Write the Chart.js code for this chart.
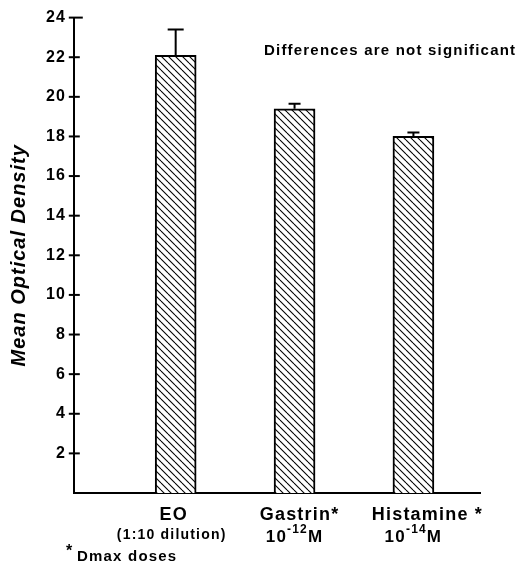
<!DOCTYPE html>
<html>
<head>
<meta charset="utf-8">
<script src="https://cdn.jsdelivr.net/npm/chart.js@4.4.0/dist/chart.umd.min.js"></script>
<style>
  html, body { margin: 0; padding: 0; background: #fff; }
  #wrap { width: 524px; height: 570px; position: relative; }
</style>
</head>
<body>
<div id="wrap"><canvas id="myChart" width="524" height="570"></canvas></div>
<script>
// data
const categories = ['EO', 'Gastrin*', 'Histamine *'];
const subLabels = ['(1:10 dilution)', '10', '10'];
const exponents = ['', '-12', '-14'];
const subUnits = ['', 'M', 'M'];
const means = [22.1, 19.4, 18.0];
const errors = [1.3, 0.25, 0.2];
const yTicks = [2, 4, 6, 8, 10, 12, 14, 16, 18, 20, 22, 24];
const note = 'Differences are not significant';
const footnote = 'Dmax doses';

const FONT = '"Liberation Sans", Arial, Helvetica, sans-serif';

// diagonal hatch fill
function hatch() {
    const s = 7;
    const c = document.createElement('canvas');
    c.width = s; c.height = s;
    const g = c.getContext('2d');
    g.fillStyle = '#fff';
    g.fillRect(0, 0, s, s);
    g.strokeStyle = '#000';
    g.lineWidth = 1.1;
    for (let k = -1; k <= 1; k++) {
        g.beginPath();
        g.moveTo(0, k * s);
        g.lineTo(s, s + k * s);
        g.stroke();
    }
    return g.createPattern(c, 'repeat');
}

const extras = {
    id: 'extras',
    beforeDraw(chart) {
        // the printed figure uses a wide lettering
        chart.ctx.letterSpacing = '1px';
    },
    afterDatasetsDraw(chart) {
        const ctx = chart.ctx;
        const x = chart.scales.x, y = chart.scales.y;
        const meta = chart.getDatasetMeta(0);
        ctx.save();
        ctx.strokeStyle = '#000';
        ctx.fillStyle = '#000';
        ctx.lineWidth = 2;

        // error bars (upper only)
        meta.data.forEach((bar, i) => {
            const top = y.getPixelForValue(means[i] + errors[i]);
            const cap = i === 0 ? 8 : 6;
            ctx.beginPath();
            ctx.moveTo(bar.x, bar.y);
            ctx.lineTo(bar.x, top);
            ctx.moveTo(bar.x - cap, top);
            ctx.lineTo(bar.x + cap, top);
            ctx.stroke();
        });

        // y ticks crossing the axis
        const ax = chart.chartArea.left;
        yTicks.forEach(v => {
            const py = y.getPixelForValue(v);
            ctx.beginPath();
            ctx.moveTo(ax - 5, py);
            ctx.lineTo(ax + (v === 24 ? 9 : 6), py);
            ctx.stroke();
        });

        // category labels
        ctx.textBaseline = 'alphabetic';
        ctx.letterSpacing = '1.2px';
        categories.forEach((c, i) => {
            const px = x.getPixelForValue(i + 1);
            ctx.textAlign = 'center';
            ctx.font = 'bold 18px ' + FONT;
            ctx.fillText(c, px + [-2, 5, 14][i], 520);
            if (exponents[i]) {
                ctx.font = 'bold 17px ' + FONT;
                const w1 = ctx.measureText(subLabels[i]).width;
                const w3 = ctx.measureText(subUnits[i]).width;
                ctx.font = 'bold 12px ' + FONT;
                const w2 = ctx.measureText(exponents[i]).width;
                const sx = px - (w1 + w2 + w3) / 2;
                ctx.textAlign = 'left';
                ctx.font = 'bold 17px ' + FONT;
                ctx.fillText(subLabels[i], sx, 542);
                ctx.font = 'bold 12px ' + FONT;
                ctx.fillText(exponents[i], sx + w1, 533);
                ctx.font = 'bold 17px ' + FONT;
                ctx.fillText(subUnits[i], sx + w1 + w2, 542);
            } else {
                ctx.font = 'bold 14px ' + FONT;
                ctx.fillText(subLabels[i], px - 4, 539);
            }
        });

        // annotations
        ctx.textAlign = 'left';
        ctx.letterSpacing = '1.2px';
        ctx.font = 'bold 15px ' + FONT;
        ctx.fillText(note, 264, 55);
        ctx.font = 'bold 16px ' + FONT;
        ctx.fillText('*', 66, 556);
        ctx.font = 'bold 15px ' + FONT;
        ctx.fillText(footnote, 77, 561);
        ctx.restore();
    }
};

const ctx = document.getElementById('myChart').getContext('2d');
const myChart = new Chart(ctx, {
    type: 'bar',
    data: {
        datasets: [{
            data: categories.map((c, i) => ({ x: i + 1, y: means[i] })),
            backgroundColor: hatch(),
            borderColor: '#000',
            borderWidth: 2,
            borderSkipped: 'bottom',
            barThickness: 41
        }]
    },
    options: {
        responsive: false,
        animation: false,
        events: [],
        layout: { padding: { left: 0, top: 10, right: 44, bottom: 77 } },
        plugins: { legend: { display: false }, tooltip: { enabled: false } },
        scales: {
            x: {
                type: 'linear',
                offset: false,
                min: 0.143,
                max: 3.56,
                ticks: { display: false },
                grid: { display: false, drawTicks: false, offset: false },
                border: { display: true, color: '#000', width: 2 }
            },
            y: {
                min: 0,
                max: 24,
                afterBuildTicks: axis => { axis.ticks = yTicks.map(v => ({ value: v })); },
                ticks: {
                    color: '#000',
                    padding: 8,
                    font: { family: FONT, size: 16, weight: 'bold' }
                },
                grid: { display: false, drawTicks: false },
                border: { display: true, color: '#000', width: 2 },
                title: {
                    display: true,
                    text: 'Mean Optical Density',
                    color: '#000',
                    padding: { top: 7, bottom: 9 },
                    font: { family: FONT, size: 20, weight: 'bold', style: 'italic' }
                }
            }
        }
    },
    plugins: [extras]
});
</script>
</body>
</html>
